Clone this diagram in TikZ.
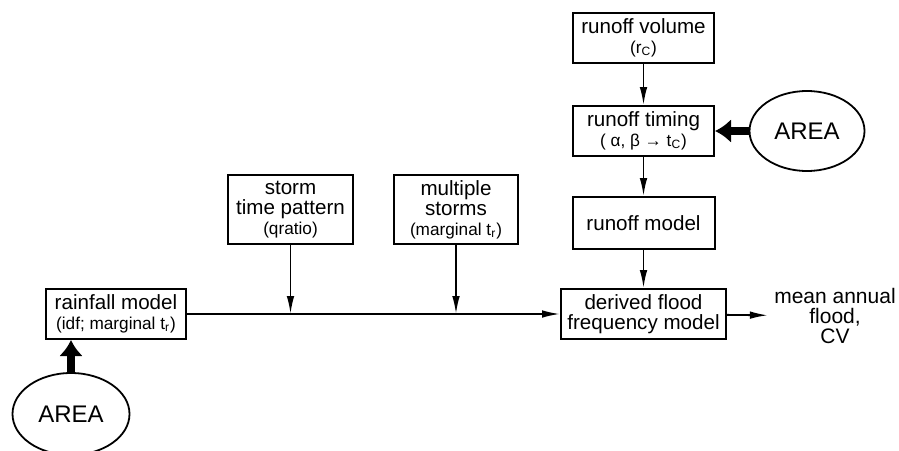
\documentclass[tikz,border=0pt]{standalone}
\usepackage{fontspec}
\setmainfont{Liberation Sans}
\usetikzlibrary{arrows.meta,shapes.geometric}
\newcommand{\smalltxt}{\fontsize{8.6}{10}\selectfont}

\begin{document}
\begin{tikzpicture}[x=0.5pt,y=-0.5pt,
    box/.style={draw,line width=1pt,align=center,inner sep=0pt,
        font=\fontsize{10.3}{10}\selectfont},
    area/.style={draw,ellipse,line width=0.9pt,inner sep=0pt,
        font=\fontsize{12}{14}\selectfont},
    flow/.style={line width=0.9pt,-{Latex[length=9pt,width=3.8pt]}},
    fat/.style={line width=3.6pt,-{Latex[length=8pt,width=12pt]}}]
    \useasboundingbox (0,0) rectangle (899,450);
    %% rainfall side
    \node[box,minimum width=70pt,minimum height=25pt] (rain) at (116,314)
        {rainfall model\\{\smalltxt (idf; marginal t\textsubscript{r})}};
    \node[box,minimum width=62.5pt,minimum height=34.5pt] (storm) at (290.5,209.5)
        {storm\\time pattern\\{\smalltxt (qratio)}};
    \node[box,minimum width=62pt,minimum height=34.5pt] (multi) at (456,209.5)
        {multiple\\storms\\{\smalltxt (marginal t\textsubscript{r})}};
    \node[area,minimum width=58.5pt,minimum height=41pt] (areaA) at (71,414) {AREA};
    %% runoff side
    \node[box,minimum width=70.5pt,minimum height=25pt] (vol) at (643.5,38)
        {runoff volume\\{\smalltxt (r\textsubscript{C})}};
    \node[box,minimum width=70.5pt,minimum height=25pt] (timing) at (643.5,131)
        {runoff timing\\{\smalltxt ( α, β → t\textsubscript{C})}};
    \node[box,minimum width=71pt,minimum height=26pt] (model) at (643.5,223) {runoff model};
    \node[area,minimum width=57.5pt,minimum height=40pt] (areaB) at (807,131) {AREA};
    %% output
    \node[box,minimum width=82.5pt,minimum height=25pt] (flood) at (643.5,314)
        {derived flood\\frequency model};
    \node[align=center,inner sep=3pt,font=\fontsize{10.5}{10}\selectfont] (out) at (835,316)
        {mean annual\\flood,\\CV};
    %% arrows
    \draw[flow] (rain) -- (flood);
    \draw[flow] (storm) -- (storm |- rain);
    \draw[flow] (multi) -- (multi |- rain);
    \draw[flow] (vol) -- (timing);
    \draw[flow] (timing) -- (model);
    \draw[flow] (model) -- (flood);
    \draw[flow] (flood) -- (out);
    \draw[fat] (areaB) -- (timing);
    \draw[fat] (areaA) -- (areaA |- rain.south);
\end{tikzpicture}
\end{document}
